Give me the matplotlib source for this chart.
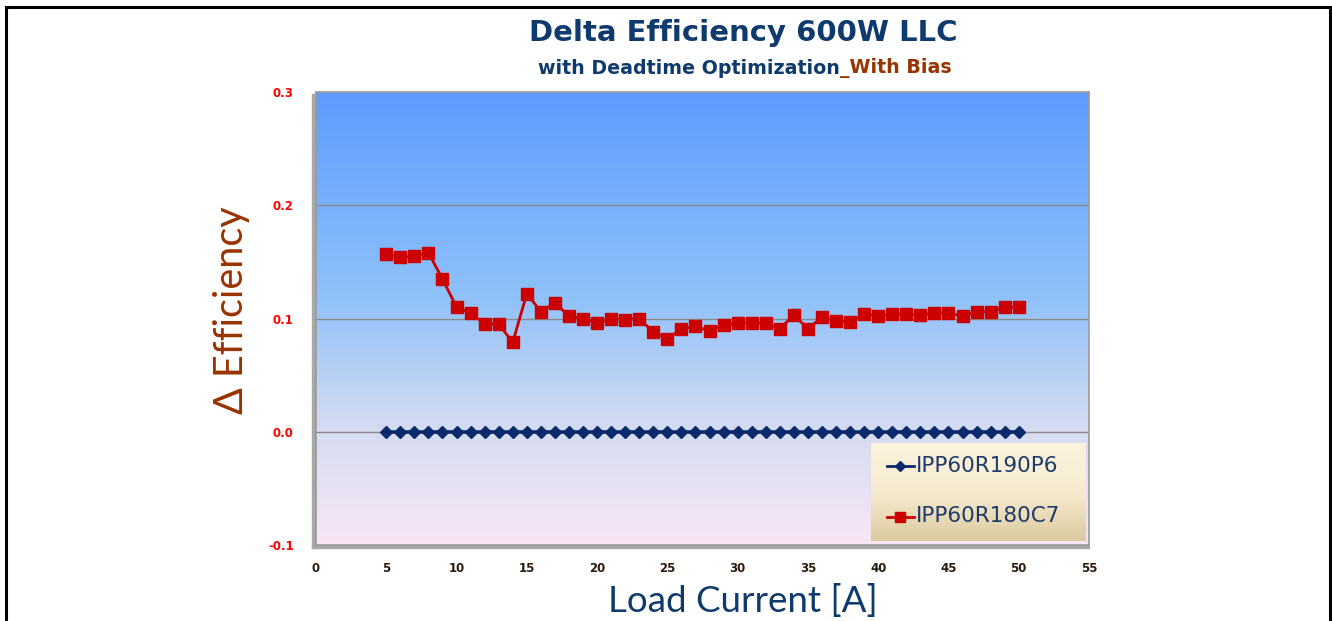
import numpy as np
import matplotlib
matplotlib.use('Agg')
import matplotlib.pyplot as plt
from matplotlib.patches import Rectangle
from matplotlib.colors import LinearSegmentedColormap

# data
load_current = list(range(5, 51))
eff_p6 = [0.0] * len(load_current)
eff_c7 = [0.157, 0.154, 0.155, 0.158, 0.135, 0.110, 0.105, 0.095, 0.095, 0.079,
          0.122, 0.106, 0.114, 0.102, 0.100, 0.096, 0.100, 0.099, 0.100, 0.088,
          0.082, 0.091, 0.093, 0.089, 0.094, 0.096, 0.096, 0.096, 0.091, 0.103,
          0.091, 0.101, 0.098, 0.097, 0.104, 0.102, 0.104, 0.104, 0.103, 0.105,
          0.105, 0.102, 0.106, 0.106, 0.110, 0.110]
series_names = ['IPP60R190P6', 'IPP60R180C7']
x_ticks = list(range(0, 56, 5))
y_ticks = [-0.1, 0.0, 0.1, 0.2, 0.3]

W, H = 1332, 621
fig = plt.figure(figsize=(W / 100, H / 100), dpi=100)

# outer black frame
fig.patches.append(Rectangle((6 / W, -0.05), (1330 - 6) / W, 1.05 - 7 / H,
                             transform=fig.transFigure, fill=False,
                             edgecolor='black', linewidth=2.2))

ax = fig.add_axes([316 / W, 1 - 545 / H, (1089 - 316) / W, (545 - 92) / H])
ax.set_xlim(0, 55)
ax.set_ylim(-0.1, 0.3)

# background gradient (blue top -> pink bottom)
bg = LinearSegmentedColormap.from_list('bg', [
    (0.0, '#f9e6f6'), (0.25, '#d6dcf1'), (0.55, '#8fc1f9'), (1.0, '#5c9cff')])
grad = np.linspace(0, 1, 256).reshape(-1, 1)
ax.imshow(grad, cmap=bg, origin='lower', aspect='auto',
          extent=[0, 55, -0.1, 0.3], zorder=0)

for y in [0.0, 0.1, 0.2]:
    ax.axhline(y, color='#8a8a8a', linewidth=1.0, zorder=1)

ax.plot(load_current, eff_p6, color='#0b2a6b', linewidth=2.6, marker='D',
        markersize=6.5, zorder=3, label=series_names[0])
ax.plot(load_current, eff_c7, color='#cc0000', linewidth=2.0, marker='s',
        markersize=8, zorder=4, label=series_names[1])

for s in ax.spines.values():
    s.set_color('#9a9a9a')
    s.set_linewidth(1.2)

# shadow on left/bottom of plot area
fig.patches.append(Rectangle((312 / W, 1 - 548 / H), 4 / W, (548 - 94) / H,
                             transform=fig.transFigure, color='#a8a8a8', zorder=-1))
fig.patches.append(Rectangle((312 / W, 1 - 548 / H), (1089 - 312) / W, 3 / H,
                             transform=fig.transFigure, color='#a8a8a8', zorder=-1))

ax.set_xticks(x_ticks)
ax.set_yticks(y_ticks)
ax.set_yticklabels(['%.1f' % v for v in y_ticks])
ax.tick_params(length=0)
ax.tick_params(axis='y', pad=16, labelcolor='#ff0000', labelsize=8.5)
ax.tick_params(axis='x', pad=12, labelcolor='#2b1a0a', labelsize=8.5)
for lbl in ax.get_xticklabels() + ax.get_yticklabels():
    lbl.set_fontweight('bold')

# legend
leg_grad = LinearSegmentedColormap.from_list('lg', ['#dccba0', '#f6ebcf', '#fcf4de'])
lax = fig.add_axes([871 / W, 1 - 541 / H, (1085 - 871) / W, (541 - 443) / H])
lax.imshow(grad, cmap=leg_grad, origin='lower', aspect='auto', extent=[0, 1, 0, 1])
lax.set_xlim(0, 1)
lax.set_ylim(0, 1)
lax.axis('off')
lax.plot([0.075, 0.2], [0.77, 0.77], color='#0b2a6b', linewidth=2)
lax.plot([0.137], [0.77], color='#0b2a6b', marker='D', markersize=5)
lax.plot([0.075, 0.2], [0.25, 0.25], color='#cc0000', linewidth=2)
lax.plot([0.137], [0.25], color='#cc0000', marker='s', markersize=7)
lax.text(0.212, 0.77, series_names[0], color='#1f3a6b', fontsize=15.5,
         va='center', ha='left')
lax.text(0.212, 0.25, series_names[1], color='#1f3a6b', fontsize=15.5,
         va='center', ha='left')

# titles
fig.text(743 / W, 1 - 33 / H, 'Delta Efficiency 600W LLC', ha='center', va='center',
         fontsize=21, fontweight='bold', color='#0e3a6e')
t1 = fig.text(538 / W, 1 - 68 / H, 'with Deadtime Optimization', ha='left', va='center',
              fontsize=13.7, fontweight='bold', color='#0e3a6e')
fig.canvas.draw()
bb = t1.get_window_extent()
fig.text(bb.x1 / W, 1 - 68 / H, '_With Bias', ha='left', va='center',
         fontsize=13.7, fontweight='bold', color='#993300')

fig.text(232 / W, 1 - 310 / H, 'Δ Efficiency', rotation=90, ha='center', va='center',
         fontsize=28.5, family=['Lato', 'DejaVu Sans'], color='#993300')
fig.text(743 / W, 1 - 601 / H, 'Load Current [A]', ha='center', va='center',
         fontsize=26.5, family=['Lato', 'DejaVu Sans'], color='#0e3a6e')

fig.savefig('out.png', dpi=100)
